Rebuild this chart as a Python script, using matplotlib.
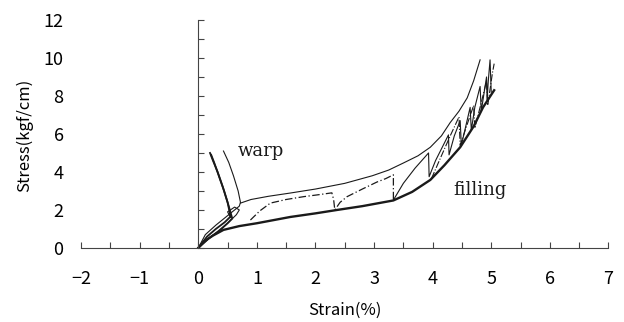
import numpy as np
import matplotlib.pyplot as plt
from matplotlib.ticker import MultipleLocator

plt.rcParams['font.family'] = ['Noto Sans CJK JP', 'DejaVu Sans']

# filling direction, lower envelope (bold)
fill_low_x = [0, 0.1, 0.25, 0.43, 0.7, 1.0, 1.57, 2.0, 2.37, 2.8, 3.33, 3.65, 3.96, 4.2, 4.47, 4.7, 4.86, 5.05]
fill_low_y = [0, 0.35, 0.65, 0.95, 1.15, 1.3, 1.63, 1.82, 2.0, 2.2, 2.5, 2.95, 3.58, 4.35, 5.3, 6.4, 7.4, 8.3]

# filling direction, upper envelope (thin)
fill_up_x = [0.72, 0.9, 1.2, 1.57, 2.0, 2.5, 2.97, 3.25, 3.5, 3.75, 3.96, 4.15, 4.3, 4.45, 4.59, 4.7, 4.81]
fill_up_y = [2.36, 2.55, 2.72, 2.89, 3.1, 3.4, 3.8, 4.1, 4.47, 4.85, 5.3, 5.9, 6.6, 7.2, 7.9, 8.8, 9.9]

# filling direction, dash-dot reload curve
fill_mid_x = [0.89, 1.05, 1.23, 1.5, 1.8, 2.05, 2.28, 2.31, 2.33, 2.42, 2.54, 2.8, 3.05, 3.2, 3.33, 3.33]
fill_mid_y = [1.47, 1.95, 2.36, 2.55, 2.7, 2.8, 2.9, 2.55, 2.0, 2.4, 2.7, 3.1, 3.47, 3.65, 3.85, 2.55]

# filling direction, thin saw-tooth reload curve
fill_saw_x = [3.33, 3.5, 3.7, 3.93, 3.94, 4.05, 4.27, 4.28, 4.37, 4.47, 4.49, 4.58, 4.64, 4.66,
              4.72, 4.81, 4.83, 4.88, 4.92, 4.93, 4.95, 4.98, 5.0]
fill_saw_y = [2.52, 3.4, 4.2, 5.0, 3.75, 4.6, 5.95, 4.9, 5.9, 6.7, 5.4, 6.6, 7.4, 6.2,
              7.4, 8.5, 7.2, 8.2, 9.0, 7.8, 8.8, 9.9, 8.2]

# second saw-tooth curve (dash-dot), near the lower envelope
fill_saw2_x = [3.98, 4.1, 4.3, 4.45, 4.47, 4.6, 4.7, 4.72, 4.85, 4.92, 4.94, 5.02, 5.05]
fill_saw2_y = [3.65, 4.5, 5.9, 6.9, 5.4, 6.6, 7.5, 6.3, 7.9, 8.8, 7.5, 9.2, 9.7]

# warp direction curves
warp_a_x = [0, 0.15, 0.3, 0.45, 0.55, 0.5, 0.42, 0.33, 0.25, 0.2]
warp_a_y = [0, 0.6, 1.0, 1.35, 1.65, 2.4, 3.2, 4.0, 4.6, 5.0]
warp_b_x = [0, 0.18, 0.35, 0.5, 0.58, 0.52, 0.44, 0.35, 0.27, 0.22]
warp_b_y = [0, 0.5, 0.9, 1.3, 1.55, 2.2, 3.0, 3.8, 4.5, 4.9]
warp_c_x = [0, 0.12, 0.3, 0.5, 0.62, 0.7, 0.72, 0.68, 0.6, 0.52, 0.43]
warp_c_y = [0, 0.7, 1.2, 1.7, 2.0, 2.2, 2.4, 3.0, 3.8, 4.5, 5.1]
warp_d_x = [0, 0.2, 0.4, 0.55, 0.65, 0.7, 0.62, 0.5, 0.55]
warp_d_y = [0, 0.55, 1.0, 1.45, 1.75, 2.0, 2.15, 1.9, 1.6]

xticks = np.arange(-2, 8, 1)
yticks = np.arange(0, 13, 2)

fig = plt.figure(figsize=(6.24, 3.22), dpi=100)
ax = fig.add_axes([0.13, 0.23, 0.845, 0.708])

ink = '#1a1a1a'
ax.plot(fill_low_x, fill_low_y, color=ink, lw=1.7)
ax.plot(fill_up_x, fill_up_y, color=ink, lw=0.8)
ax.plot(fill_mid_x, fill_mid_y, color=ink, lw=0.9, ls=(0, (6, 2, 1, 2)))
ax.plot(fill_saw_x, fill_saw_y, color=ink, lw=0.8)
ax.plot(fill_saw2_x, fill_saw2_y, color=ink, lw=0.8, ls='-.')
ax.plot(warp_a_x, warp_a_y, color=ink, lw=1.3)
ax.plot(warp_b_x, warp_b_y, color=ink, lw=1.3)
ax.plot(warp_c_x, warp_c_y, color=ink, lw=0.8)
ax.plot(warp_d_x, warp_d_y, color=ink, lw=0.8)

ax.text(0.68, 5.1, 'warp', family='DejaVu Serif', fontsize=13, va='center', color=ink)
ax.text(4.35, 3.05, 'filling', family='DejaVu Serif', fontsize=13, va='center', color=ink)

ax.set_xlim(-2, 7)
ax.set_ylim(0, 12)
ax.set_xticks(xticks)
ax.set_yticks(yticks)
ax.xaxis.set_minor_locator(MultipleLocator(0.5))
ax.yaxis.set_minor_locator(MultipleLocator(1))

for s in ['top', 'right']:
    ax.spines[s].set_visible(False)
ax.spines['left'].set_position(('data', 0))
for s in ['left', 'bottom']:
    ax.spines[s].set_color('#444444')
    ax.spines[s].set_linewidth(0.8)

ax.tick_params(axis='x', which='both', direction='in', length=4, width=0.8,
               color='#444444', pad=16, labelsize=13)
ax.tick_params(axis='y', which='both', direction='in', length=4, width=0.8,
               color='#444444', pad=97, labelsize=13)
ax.set_yticklabels([str(v) for v in yticks])

ax.set_xlabel('Strain(%)', fontsize=12, labelpad=10)
fig.text(0.04, 0.58, 'Stress(kgf/cm)', rotation=90, fontsize=12, ha='center', va='center')

fig.savefig('out.png', dpi=100, facecolor='white')
